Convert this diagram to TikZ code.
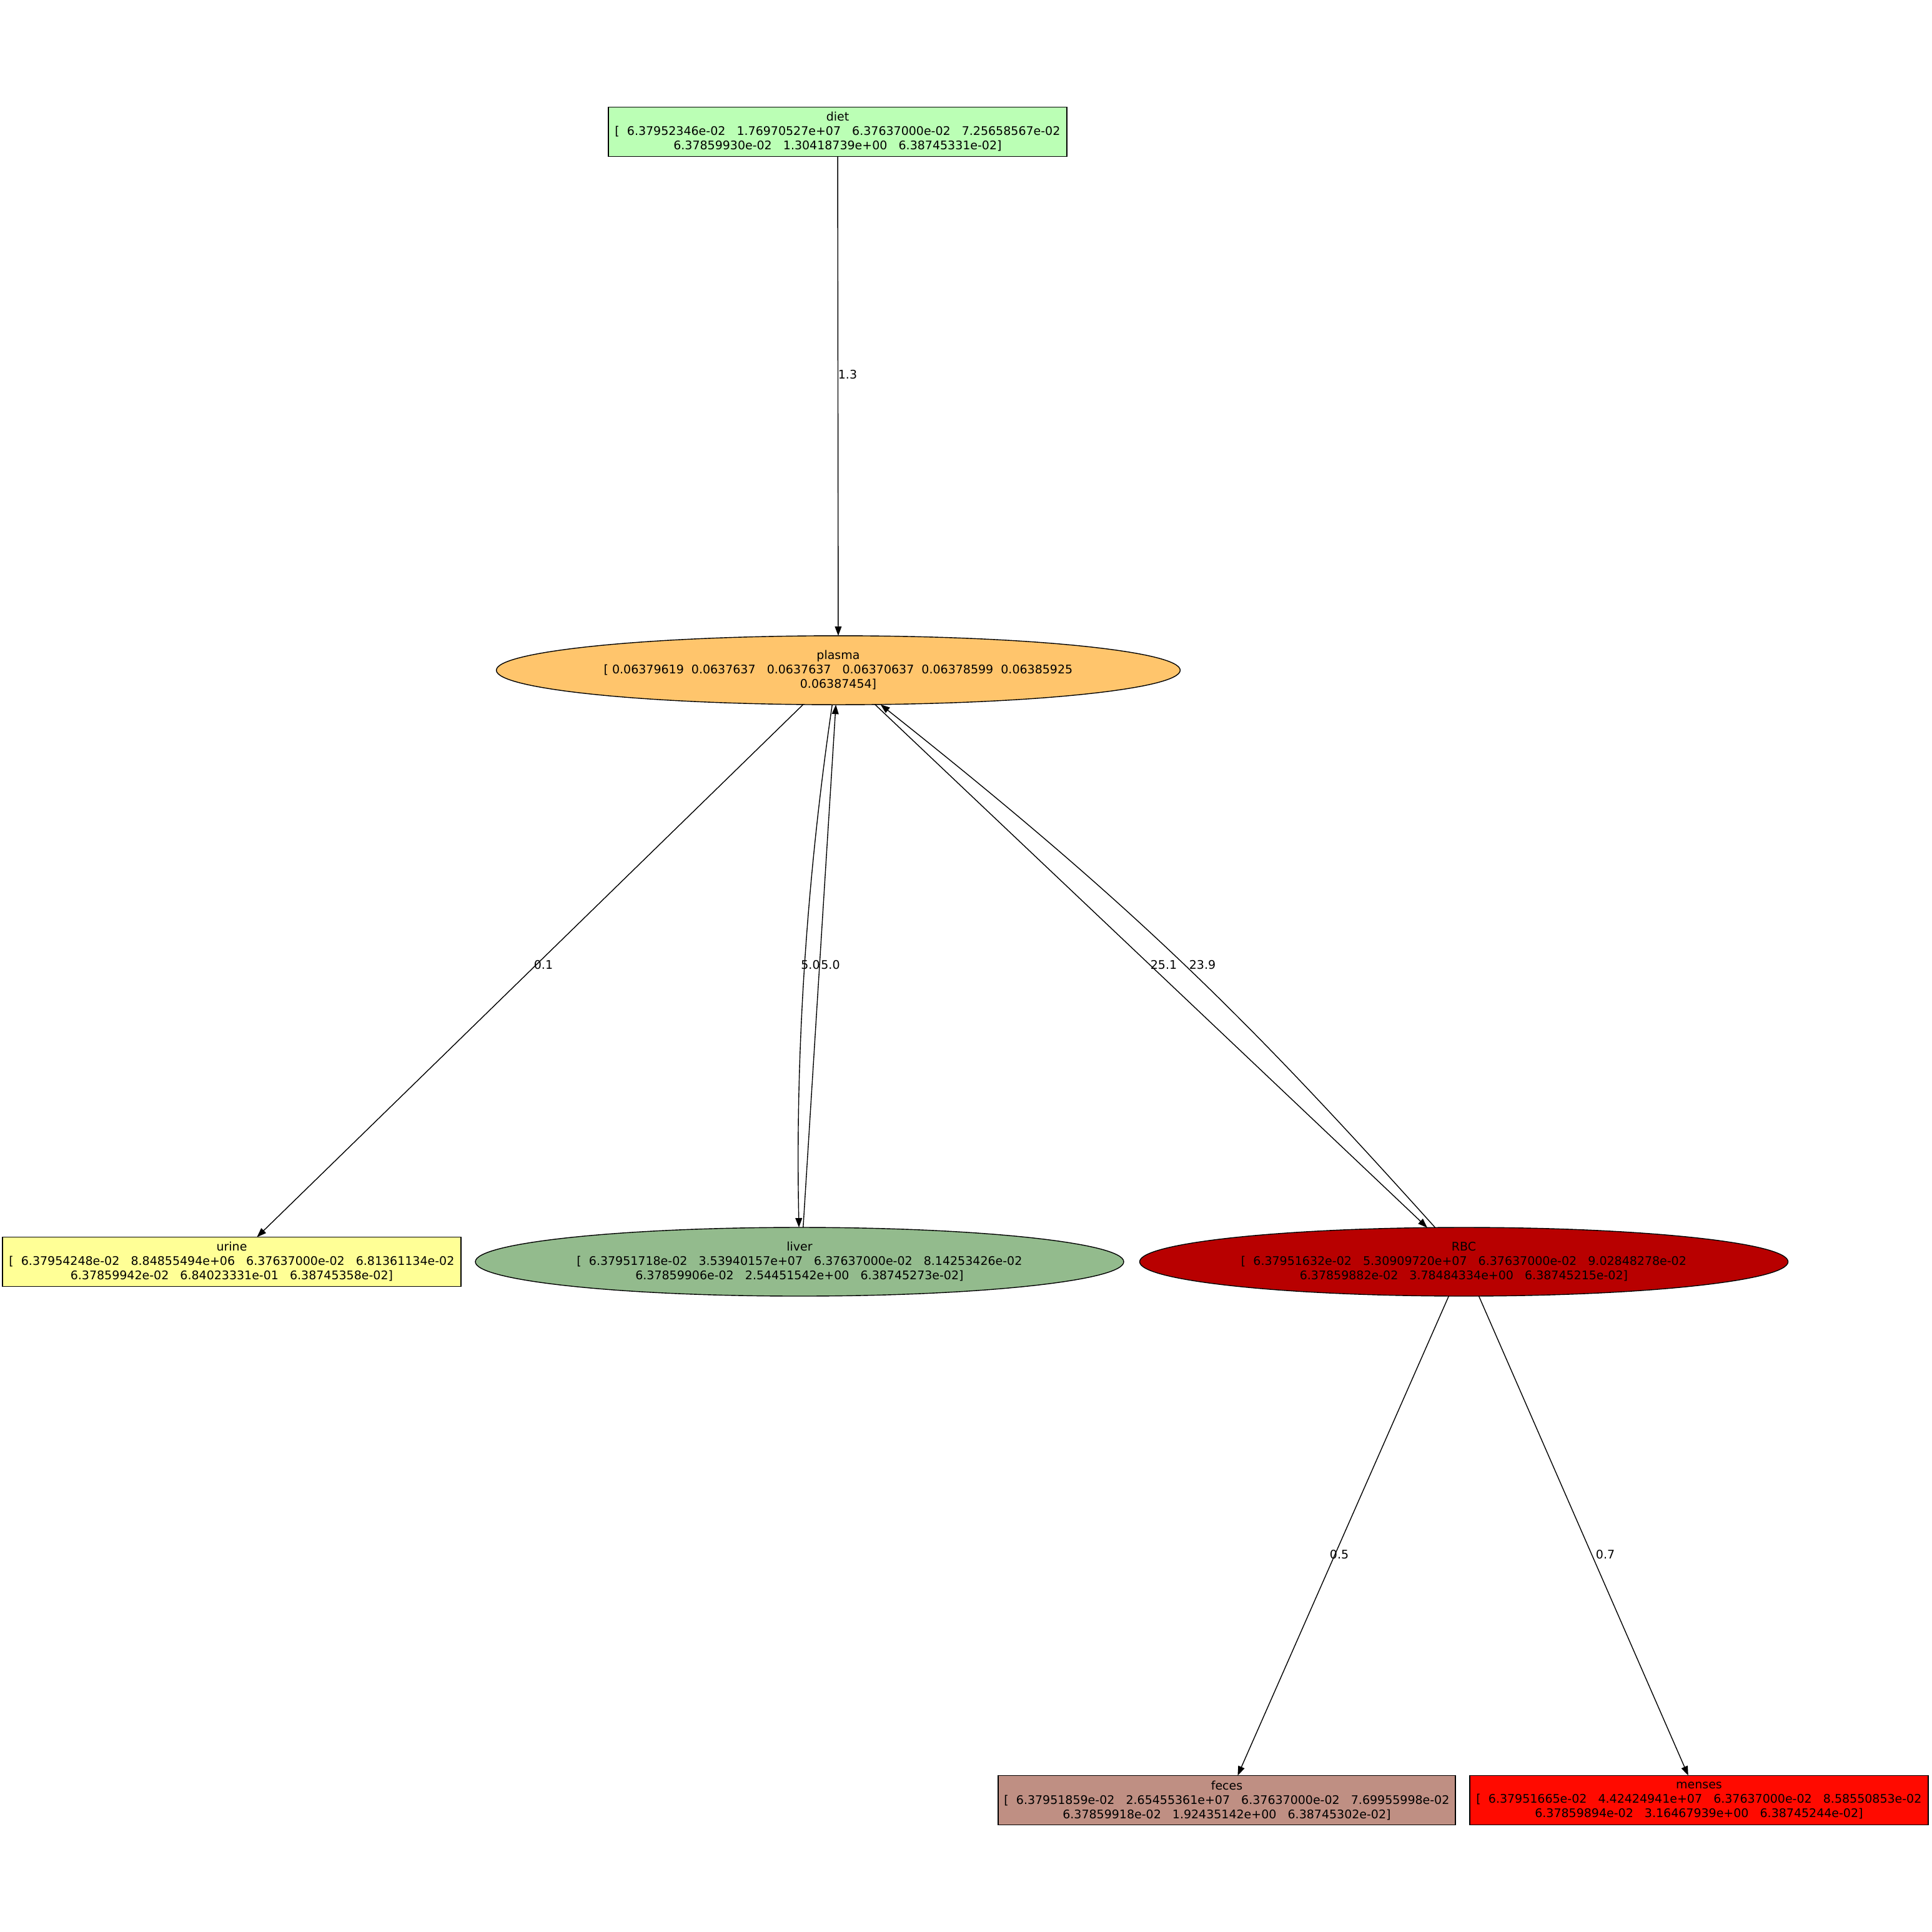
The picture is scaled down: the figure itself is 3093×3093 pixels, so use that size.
\documentclass[tikz,border=0pt]{standalone}
\usepackage{fontspec}
\setmainfont{DejaVu Sans}
\usetikzlibrary{arrows.meta,shapes.geometric}
\definecolor{dietgreen}{RGB}{187,255,181}
\definecolor{plasmaorange}{RGB}{255,197,108}
\definecolor{urineyellow}{RGB}{255,255,150}
\definecolor{livergreen}{RGB}{147,187,141}
\definecolor{rbcred}{RGB}{184,0,0}
\definecolor{fecesbrown}{RGB}{191,143,131}
\definecolor{mensesred}{RGB}{255,10,0}

\begin{document}
\begin{tikzpicture}[x=0.5pt,y=-0.5pt,
  every node/.style={font=\fontsize{9.5}{11.5}\selectfont},
  box/.style={draw,line width=0.7pt,rectangle,minimum width=367pt,minimum height=39.5pt,
    inner sep=0pt,outer sep=0pt,align=center},
  oval/.style={draw,line width=0.7pt,ellipse,inner sep=0pt,outer sep=0pt,align=center},
  flow/.style={line width=0.7pt,-{Triangle[length=7.5pt,width=5.4pt]}},
  wt/.style={inner sep=0pt}]
\useasboundingbox (0,0) rectangle (3093,3093);
% compartments
\node[box,fill=dietgreen] (diet) at (1341,211)
  {diet\\{[}~~6.37952346e-02~~~1.76970527e+07~~~6.37637000e-02~~~7.25658567e-02\\6.37859930e-02~~~1.30418739e+00~~~6.38745331e-02]};
\node[oval,fill=plasmaorange,minimum width=547.4pt,minimum height=55.2pt] (plasma) at (1342,1073)
  {plasma\\{[}~0.06379619~~0.0637637~~~0.0637637~~~0.06370637~~0.06378599~~0.06385925\\0.06387454]};
\node[box,fill=urineyellow] (urine) at (371,2020)
  {urine\\{[}~~6.37954248e-02~~~8.84855494e+06~~~6.37637000e-02~~~6.81361134e-02\\6.37859942e-02~~~6.84023331e-01~~~6.38745358e-02]};
\node[oval,fill=livergreen,minimum width=519pt,minimum height=55pt] (liver) at (1280,2020)
  {liver\\{[}~~6.37951718e-02~~~3.53940157e+07~~~6.37637000e-02~~~8.14253426e-02\\6.37859906e-02~~~2.54451542e+00~~~6.38745273e-02]};
\node[oval,fill=rbcred,minimum width=519pt,minimum height=55pt] (rbc) at (2343.5,2020)
  {RBC\\{[}~~6.37951632e-02~~~5.30909720e+07~~~6.37637000e-02~~~9.02848278e-02\\6.37859882e-02~~~3.78484334e+00~~~6.38745215e-02]};
\node[box,fill=fecesbrown,minimum width=366pt] (feces) at (1964,2882)
  {feces\\{[}~~6.37951859e-02~~~2.65455361e+07~~~6.37637000e-02~~~7.69955998e-02\\6.37859918e-02~~~1.92435142e+00~~~6.38745302e-02]};
\node[box,fill=mensesred] (menses) at (2720,2882)
  {menses\\{[}~~6.37951665e-02~~~4.42424941e+07~~~6.37637000e-02~~~8.58550853e-02\\6.37859894e-02~~~3.16467939e+00~~~6.38745244e-02]};
% flows
\draw[flow] (diet) -- (plasma);
\draw[flow] (plasma) -- (urine);
\draw[flow] (plasma.260.3) .. controls +(-41,280) and +(-6,-280) .. (liver.91);
\draw[flow] (liver.84.8) -- (plasma.266.5);
\draw[flow] (plasma.317.3) -- (rbc.137.2);
\draw[flow] (rbc.130.4) .. controls +(-297,-330) and +(416,330) .. (plasma.321.7);
\draw[flow] (rbc) -- (feces);
\draw[flow] (rbc) -- (menses);
% rates
\node[wt] (w13) at (1357,600) {1.3};
\node[wt] (w01) at (870,1545) {0.1};
\node[wt] (w50a) at (1297.5,1545) {5.0};
\node[wt] (w50b) at (1329.5,1545) {5.0};
\node[wt] (w251) at (1863,1545) {25.1};
\node[wt] (w239) at (1925,1545) {23.9};
\node[wt] (w05) at (2144,2489) {0.5};
\node[wt] (w07) at (2570,2489) {0.7};
\end{tikzpicture}
\end{document}
